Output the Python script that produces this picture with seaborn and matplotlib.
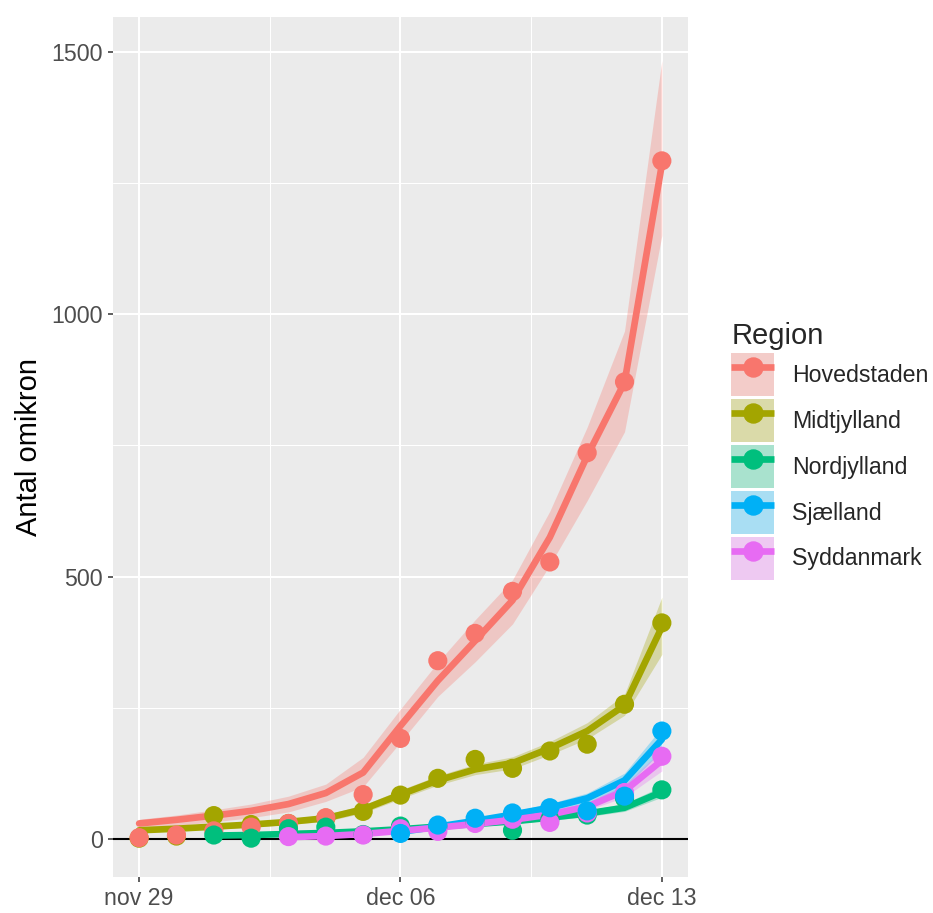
import numpy as np
import pandas as pd
import matplotlib
matplotlib.use("Agg")
import matplotlib.pyplot as plt
import matplotlib.dates as mdates
import seaborn as sns
from matplotlib.lines import Line2D
from matplotlib.patches import Patch
from matplotlib.legend_handler import HandlerTuple

nan = np.nan

# ---- data -------------------------------------------------------------
dates = pd.date_range("2021-11-29", periods=15, freq="D")
regions = ["Hovedstaden", "Midtjylland", "Nordjylland", "Sjælland", "Syddanmark"]
colors = ["#F8766D", "#A3A500", "#00BF7D", "#00B0F6", "#E76BF3"]

# observed daily counts
hoved_obs = [3, 8, 16, 23, 30, 41, 85, 192, 340, 392, 472, 528, 736, 871, 1292]
midt_obs = [2, 6, 45, 28, 30, 40, 53, 84, 116, 152, 135, 168, 181, 257, 412]
nord_obs = [nan, nan, 8, 2, 20, 23, 9, 25, 24, 32, 17, 38, 46, 78, 94]
sjae_obs = [nan, nan, nan, nan, nan, nan, nan, 11, 27, 40, 50, 60, 54, 82, 206]
sydd_obs = [nan, nan, nan, nan, 5, 6, 8, 20, 15, 30, 38, 32, 50, 89, 158]

# fitted counts with lower / upper band
hoved_fit = [30, 37, 45, 54, 67, 88, 127, 216, 302, 378, 455, 575, 730, 870, 1285]
hoved_lo = [20, 26, 33, 41, 52, 72, 100, 185, 272, 338, 410, 522, 645, 776, 1150]
hoved_hi = [38, 46, 56, 67, 82, 105, 156, 248, 337, 418, 494, 625, 785, 968, 1483]

midt_fit = [17, 20, 24, 28, 33, 40, 57, 85, 112, 133, 145, 173, 206, 255, 404]
midt_lo = [13, 16, 19, 23, 28, 34, 50, 77, 103, 123, 134, 161, 191, 236, 352]
midt_hi = [21, 24, 29, 33, 39, 47, 65, 94, 121, 143, 157, 186, 222, 276, 461]

nord_fit = [nan, nan, 7, 8, 10, 12, 15, 19, 24, 29, 34, 41, 49, 60, 90]
nord_lo = [nan, nan, 5, 6, 8, 10, 12, 16, 20, 25, 30, 36, 43, 53, 80]
nord_hi = [nan, nan, 9, 10, 12, 15, 18, 23, 28, 34, 39, 46, 55, 68, 101]

sjae_fit = [nan, nan, nan, nan, nan, nan, nan, 14, 24, 35, 47, 60, 78, 112, 190]
sjae_lo = [nan, nan, nan, nan, nan, nan, nan, 11, 20, 30, 41, 53, 69, 99, 168]
sjae_hi = [nan, nan, nan, nan, nan, nan, nan, 17, 28, 40, 53, 68, 88, 126, 213]

sydd_fit = [nan, nan, nan, nan, 4, 6, 10, 16, 22, 29, 37, 47, 62, 92, 150]
sydd_lo = [nan, nan, nan, nan, 3, 4, 8, 13, 19, 25, 32, 41, 55, 80, 130]
sydd_hi = [nan, nan, nan, nan, 6, 8, 13, 19, 26, 33, 42, 54, 70, 104, 170]

tick_dates = ["2021-11-29", "2021-12-06", "2021-12-13"]
tick_labels = ["nov 29", "dec 06", "dec 13"]
y_ticks = [0, 500, 1000, 1500]
y_minor = [250, 750, 1250]

obs = {"Hovedstaden": hoved_obs, "Midtjylland": midt_obs, "Nordjylland": nord_obs,
       "Sjælland": sjae_obs, "Syddanmark": sydd_obs}
fits = {"Hovedstaden": (hoved_lo, hoved_fit, hoved_hi),
        "Midtjylland": (midt_lo, midt_fit, midt_hi),
        "Nordjylland": (nord_lo, nord_fit, nord_hi),
        "Sjælland": (sjae_lo, sjae_fit, sjae_hi),
        "Syddanmark": (sydd_lo, sydd_fit, sydd_hi)}

# long table: three rows per day (lower, fit, upper); median = fit, min/max = band
rows = []
for reg in regions:
    for part in fits[reg]:
        for d, v in zip(dates, part):
            rows.append((reg, d, v))
band_df = pd.DataFrame(rows, columns=["Region", "Dato", "Antal"]).dropna()

point_order = ["Midtjylland", "Hovedstaden", "Nordjylland", "Syddanmark", "Sjælland"]
prow = []
for reg in point_order:
    for d, v in zip(dates, obs[reg]):
        prow.append((reg, d, v))
point_df = pd.DataFrame(prow, columns=["Region", "Dato", "Antal"]).dropna()

# ---- figure -----------------------------------------------------------
sns.set_theme(style="darkgrid")
plt.rcParams["font.family"] = ["Liberation Sans", "DejaVu Sans"]

fig = plt.figure(figsize=(9.33, 9.13), dpi=100)
ax = fig.add_axes([0.1211, 0.0394, 0.6163, 0.942])
ax.set_facecolor("#EBEBEB")
for s in ax.spines.values():
    s.set_visible(False)

ax.axhline(0, color="black", lw=1.5, zorder=1.6)

sns.lineplot(data=band_df, x="Dato", y="Antal", hue="Region", hue_order=regions,
             palette=colors, estimator="median", errorbar=("pi", 100),
             err_kws={"alpha": 0.3, "linewidth": 0}, linewidth=4.8,
             legend=False, ax=ax, zorder=2)

sns.scatterplot(data=point_df, x="Dato", y="Antal", hue="Region", hue_order=regions,
                palette=colors, s=190, linewidth=0, legend=False, ax=ax, zorder=3)

# axes
x0 = mdates.date2num(dates[0]) - 0.7
x1 = mdates.date2num(dates[-1]) + 0.7
ax.set_xlim(x0, x1)
ax.set_ylim(-72, 1566)
ax.set_xticks(mdates.date2num(pd.to_datetime(tick_dates)))
ax.set_xticklabels(tick_labels)
minor_x = [mdates.date2num(pd.Timestamp("2021-12-02 12:00")),
           mdates.date2num(pd.Timestamp("2021-12-09 12:00"))]
ax.set_xticks(minor_x, minor=True)
ax.set_yticks(y_ticks)
ax.set_yticklabels([str(v) for v in y_ticks])
ax.set_yticks(y_minor, minor=True)

ax.grid(which="major", color="white", linewidth=1.45)
ax.grid(which="minor", color="white", linewidth=0.75)
ax.set_axisbelow(True)
ax.tick_params(which="major", length=3.6, width=1.1, color="#333333",
               labelsize=16.7, labelcolor="#4D4D4D", pad=3.5,
               bottom=True, left=True)
ax.tick_params(which="minor", length=0)

ax.set_xlabel("")
ax.set_ylabel("Antal omikron", fontsize=21, color="black", labelpad=6)

# legend: band fill + line + point per region
handles = []
for c in colors:
    handles.append((Patch(facecolor="#F2F2F2", edgecolor="none"),
                    Patch(facecolor=c, alpha=0.3, edgecolor="none"),
                    Line2D([], [], color=c, lw=4.8, marker="o", markersize=13.7,
                           solid_capstyle="butt")))
leg = fig.legend(handles, regions,
                 handler_map={tuple: HandlerTuple(ndivide=1, pad=0)},
                 loc="center left", bbox_to_anchor=(0.784, 0.506), frameon=False,
                 title="Region", title_fontsize=21, fontsize=16.7,
                 handlelength=1.85, handleheight=2.47, labelspacing=0.13,
                 handletextpad=0.75, borderpad=0, borderaxespad=0, numpoints=1)
leg._legend_box.align = "left"

fig.savefig("out.png", dpi=100)
